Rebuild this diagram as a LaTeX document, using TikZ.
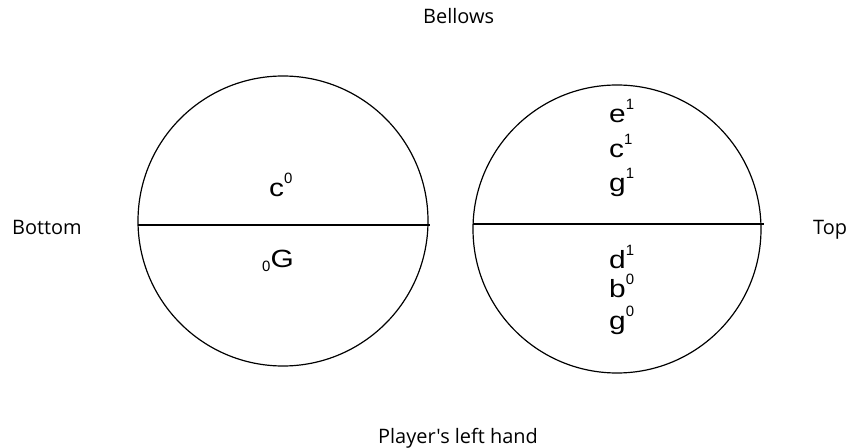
\documentclass[tikz,border=0pt]{standalone}
\usepackage{fontspec}
\setmainfont{Liberation Sans}
\newfontfamily\labelfont{Open Sans}
\newfontfamily\notefont[FakeStretch=1.2]{Liberation Sans}
\newcommand{\supfont}{\normalfont\fontsize{15}{15}\selectfont}
\newcommand{\nsup}[1]{\raisebox{13bp}{\supfont #1}}
\begin{document}
\begin{tikzpicture}[x=1bp,y=-1bp,
  lbl/.style={font=\labelfont\fontsize{20}{24}\selectfont, inner sep=0, anchor=base west},
  note/.style={font=\notefont\fontsize{25}{28}\selectfont, inner sep=0, anchor=base west},
  ring/.style={draw, circle, line width=1.2pt, inner sep=0},
  chord/.style={line width=1.6pt}]
\useasboundingbox (0,0) rectangle (851,448);
% circles
\node[ring, minimum size=290bp] (L) at (283,221) {};
\node[ring, minimum size=288bp] (R) at (617,229) {};
% chords
\coordinate (l1) at (138,225);
\coordinate (l2) at (430,225);
\coordinate (r1) at (473,224);
\coordinate (r2) at (764,224);
\draw[chord] (l1) -- (l2);
\draw[chord] (r1) -- (r2);
% left circle notes
\node[note] (c0) at (269,197) {c\nsup{0}};
\node[note] (G0) at (262,268) {\lower4bp\hbox{\supfont 0}G};
% right circle notes
\node[note] (e1) at (609,123) {e\nsup{1}};
\node[note] (c1) at (609,158) {c\nsup{1}};
\node[note] (g1) at (609,192) {g\nsup{1}};
\node[note] (d1) at (609,269) {d\nsup{1}};
\node[note] (b0) at (609,298) {b\nsup{0}};
\node[note] (g0) at (609,330) {g\nsup{0}};
% labels
\node[lbl] (bellows) at (423,24) {Bellows};
\node[lbl] (bottom) at (12,235) {Bottom};
\node[lbl] (top) at (813,235) {Top};
\node[lbl] (hand) at (378,443) {Player's left hand};
\end{tikzpicture}
\end{document}
